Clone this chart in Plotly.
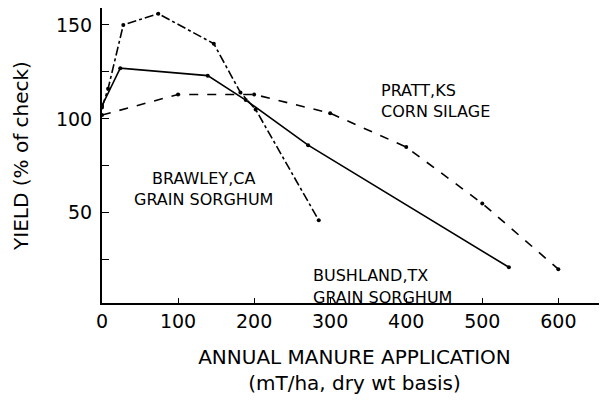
import plotly.graph_objects as go

# Pratt, KS corn silage (dashed)
pratt_x = [0, 100, 200, 300, 400, 500, 600]
pratt_y = [102, 113, 113, 103, 85, 55, 20]

# Bushland, TX grain sorghum (solid)
bush_x = [0, 24, 139, 189, 271, 535]
bush_y = [107, 127, 123, 110, 86, 21]

# Brawley, CA grain sorghum (dash-dot)
braw_x = [0, 8, 28, 74, 147, 182, 202, 285]
braw_y = [106, 116, 150, 156, 140, 114, 105, 46]

x_ticks = [0, 100, 200, 300, 400, 500, 600]
y_ticks = [25, 50, 75, 100, 125, 150]
y_ticktext = ["", "50", "", "100", "", "150"]

FONT = "DejaVu Sans"
fig = go.Figure()
for xs, ys, dash in [(pratt_x, pratt_y, "dash"), (bush_x, bush_y, "solid"), (braw_x, braw_y, "dashdot")]:
    fig.add_trace(go.Scatter(x=xs, y=ys, mode="lines+markers",
                             line=dict(color="black", width=1.6, dash=dash),
                             marker=dict(color="black", size=4),
                             showlegend=False))

labels = [
    (364, 115, "PRATT,KS"), (364, 104, "CORN SILAGE"),
    (133, 68, "BRAWLEY,CA"), (133, 57, "GRAIN SORGHUM"),
    (275, 16.5, "BUSHLAND,TX"), (275, 5, "GRAIN SORGHUM"),
]
for i, (x, y, t) in enumerate(labels):
    fig.add_annotation(x=x, y=y, text=t, showarrow=False,
                       xanchor="center" if 2 <= i <= 3 else "left", yanchor="middle",
                       font=dict(family=FONT, size=16, color="black"))

fig.update_layout(
    width=599, height=400,
    margin=dict(l=94, r=0, t=0, b=105),
    plot_bgcolor="white", paper_bgcolor="white",
    font=dict(family=FONT, color="black"),
)
fig.update_xaxes(range=[0, 664], showgrid=False, zeroline=False, showline=True,
                 linecolor="black", linewidth=2, ticks="inside", ticklen=5,
                 tickcolor="black", tickvals=x_ticks, tickfont=dict(size=19),
                 ticklabelstandoff=0, automargin=False,
                 title=dict(text="ANNUAL MANURE APPLICATION<br>(mT/ha, dry wt basis)",
                            font=dict(size=20), standoff=19))
fig.update_yaxes(range=[2, 159], showgrid=False, zeroline=False, showline=True,
                 linecolor="black", linewidth=2, ticks="inside", ticklen=7,
                 tickcolor="black", tickvals=y_ticks, ticktext=y_ticktext,
                 tickfont=dict(size=19), ticklabelstandoff=4, automargin=False,
                 title=dict(text="YIELD (% of check)", font=dict(size=20), standoff=22))

fig.write_html("out.html")
